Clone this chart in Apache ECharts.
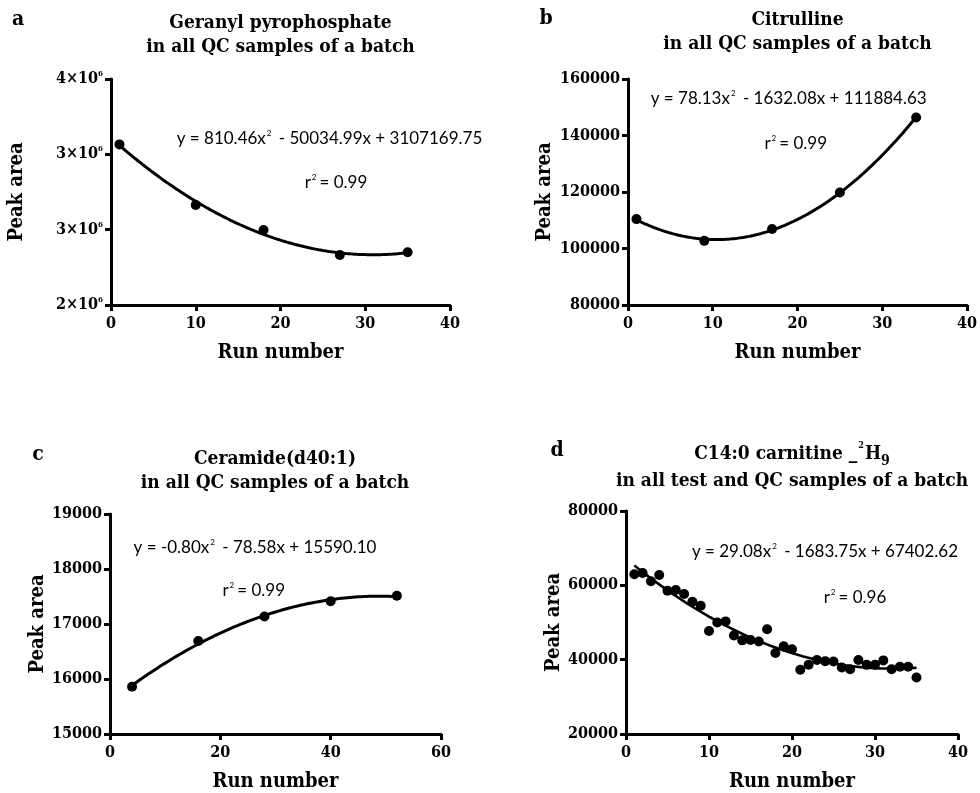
<!DOCTYPE html>
<html>
<head>
<meta charset="utf-8">
<script src="https://cdn.jsdelivr.net/npm/echarts@6/dist/echarts.min.js"></script>
<style>
  html, body { margin: 0; padding: 0; background: #fff; }
  #chart { width: 980px; height: 793px; }
</style>
</head>
<body>
<div id="chart"></div>
<script>
// ---- Data -------------------------------------------------------------
// a: Geranyl pyrophosphate, QC injections
const runA  = [1, 10, 18, 27, 35];
const areaA = [3066000, 2664000, 2498000, 2332000, 2350000];
// b: Citrulline, QC injections
const runB  = [1, 9, 17, 25, 34];
const areaB = [110400, 102700, 106900, 119800, 146400];
// c: Ceramide(d40:1), QC injections
const runC  = [4, 16, 28, 40, 52];
const areaC = [15860, 16690, 17135, 17415, 17515];
// d: C14:0 carnitine-2H9 internal standard, test + QC injections
const runD  = [1, 2, 3, 4, 5, 6, 7, 8, 9, 10, 11, 12, 13, 14, 15, 16, 17, 18,
               19, 20, 21, 22, 23, 24, 25, 26, 27, 28, 29, 30, 31, 32, 33, 34, 35];
const areaD = [62960, 63300, 61080, 62780, 58570, 58740, 57670, 55600, 54500, 47700,
               50000, 50300, 46500, 45200, 45300, 44900, 48200, 41800, 43600, 42800,
               37300, 38650, 39900, 39600, 39500, 37900, 37400, 39900, 38600, 38600,
               39800, 37400, 38100, 38100, 35200];

// Tick labels of panel a's y axis (mantissa of N×10^6, as printed)
const yTickValuesA   = [2000000, 2500000, 3000000, 3500000];
const yTickMantissaA = ['2', '3', '3', '4'];

const panelLetters = ['a', 'b', 'c', 'd'];
const titleLines = [
  ['Geranyl pyrophosphate', 'in all QC samples of a batch'],
  ['Citrulline', 'in all QC samples of a batch'],
  ['Ceramide(d40:1)', 'in all QC samples of a batch'],
  ['C14:0 carnitine _', 'in all test and QC samples of a batch']
];
const equations = [
  ['y = 810.46x', ' - 50034.99x + 3107169.75'],
  ['y = 78.13x', ' - 1632.08x + 111884.63'],
  ['y = -0.80x', ' - 78.58x + 15590.10'],
  ['y = 29.08x', ' - 1683.75x + 67402.62']
];
const rSquared = ['0.99', '0.99', '0.99', '0.96'];

// ---- Helpers ----------------------------------------------------------
const SERIF = "'DejaVu Serif Condensed', 'DejaVu Serif', serif";
const SANS = "Lato, 'Open Sans', sans-serif";

// Least-squares quadratic y = a x^2 + b x + c
function quadFit(xs, ys) {
  const S = [0, 0, 0, 0, 0], T = [0, 0, 0];
  xs.forEach((x, i) => {
    const y = ys[i];
    for (let k = 0; k < 5; k++) S[k] += Math.pow(x, k);
    T[0] += y; T[1] += x * y; T[2] += x * x * y;
  });
  const M = [[S[0], S[1], S[2], T[0]], [S[1], S[2], S[3], T[1]], [S[2], S[3], S[4], T[2]]];
  for (let col = 0; col < 3; col++) {
    for (let row = col + 1; row < 3; row++) {
      const f = M[row][col] / M[col][col];
      for (let k = col; k < 4; k++) M[row][k] -= f * M[col][k];
    }
  }
  const sol = [0, 0, 0];
  for (let row = 2; row >= 0; row--) {
    let s = M[row][3];
    for (let k = row + 1; k < 3; k++) s -= M[row][k] * sol[k];
    sol[row] = s / M[row][row];
  }
  return { c: sol[0], b: sol[1], a: sol[2] };
}

function fitCurve(xs, ys) {
  const f = quadFit(xs, ys);
  const pts = [];
  const x0 = xs[0], x1 = xs[xs.length - 1];
  for (let x = x0; x <= x1 + 1e-9; x += 0.25) pts.push([x, f.a * x * x + f.b * x + f.c]);
  return pts;
}

const zip = (xs, ys) => xs.map((x, i) => [x, ys[i]]);

// ---- Layout -----------------------------------------------------------
const grids = [
  { left: 111, top: 79,  width: 339, height: 226 },
  { left: 628, top: 79,  width: 339, height: 226 },
  { left: 110, top: 514, width: 331, height: 222 },
  { left: 626, top: 511, width: 332, height: 223 }
];

const axisLine = { lineStyle: { color: '#000', width: 3 } };
const axisTick = { length: 6, lineStyle: { color: '#000', width: 3 } };
const plainNumber = v => String(v);
const axisLabelBase = { color: '#000', fontFamily: SERIF, fontWeight: 'bold', fontSize: 16, formatter: plainNumber };
const axisNameStyle = { color: '#000', fontFamily: SERIF, fontWeight: 'bold', fontSize: 20 };

function xAxisFor(i, max, interval) {
  return {
    type: 'value', gridIndex: i, min: 0, max: max, interval: interval,
    name: 'Run number', nameLocation: 'middle', nameGap: 38, nameTextStyle: axisNameStyle,
    axisLine: Object.assign({ onZero: false }, axisLine), axisTick: axisTick,
    axisLabel: Object.assign({}, axisLabelBase, { margin: 11 }),
    splitLine: { show: false }
  };
}
function yAxisFor(i, min, max, interval, nameGap, labelExtra) {
  return {
    type: 'value', gridIndex: i, min: min, max: max, interval: interval,
    name: 'Peak area', nameLocation: 'middle', nameGap: nameGap, nameTextStyle: axisNameStyle,
    axisLine: Object.assign({ onZero: false }, axisLine), axisTick: axisTick,
    axisLabel: Object.assign({}, axisLabelBase, { margin: 8 }, labelExtra || {}),
    splitLine: { show: false }
  };
}

const xAxes = [
  xAxisFor(0, 40, 10),
  xAxisFor(1, 40, 10),
  xAxisFor(2, 60, 20),
  xAxisFor(3, 40, 10)
];
const yAxes = [
  yAxisFor(0, 2000000, 3500000, 500000, 84, {
    formatter: function (v) {
      const idx = yTickValuesA.indexOf(v);
      return '{m|' + yTickMantissaA[idx] + '×10}{e|6}';
    },
    rich: {
      m: { fontFamily: SERIF, fontWeight: 'bold', fontSize: 16, color: '#000', lineHeight: 18 },
      e: { fontFamily: SERIF, fontWeight: 'bold', fontSize: 8, color: '#000', verticalAlign: 'top', lineHeight: 18 }
    }
  }),
  yAxisFor(1, 80000, 160000, 20000, 73),
  yAxisFor(2, 15000, 19000, 1000, 62),
  yAxisFor(3, 20000, 80000, 20000, 60)
];

const pointSets = [[runA, areaA], [runB, areaB], [runC, areaC], [runD, areaD]];
const series = [];
pointSets.forEach(([xs, ys], i) => {
  series.push({
    type: 'line', xAxisIndex: i, yAxisIndex: i, data: fitCurve(xs, ys),
    showSymbol: false, symbol: 'none', smooth: false, silent: true,
    lineStyle: { color: '#000', width: i === 3 ? 2.6 : 3 }, z: 2
  });
  series.push({
    type: 'scatter', xAxisIndex: i, yAxisIndex: i, data: zip(xs, ys),
    symbol: 'circle', symbolSize: 10, itemStyle: { color: '#000', opacity: 1 }, z: 3
  });
});

// ---- Text annotations ---------------------------------------------------
const letterPos = [[18, 20], [546, 19], [38, 455], [557, 451]];
const titlePos  = [[280.5, 35], [797.5, 32], [275, 471], [792, 468]];
const eqPos     = [[329.5, 139], [788.7, 99], [255, 548], [825, 552]];
const r2Pos     = [[336, 183], [795.7, 144], [253.7, 591], [855, 598]];

const titleRich = {
  t:   { fontFamily: SERIF, fontWeight: 'bold', fontSize: 19, fill: '#000', lineHeight: 24 },
  sup: { fontFamily: SERIF, fontWeight: 'bold', fontSize: 9, fill: '#000', verticalAlign: 'top', lineHeight: 27, padding: [0, 1, 0, 1] },
  sub: { fontFamily: SERIF, fontWeight: 'bold', fontSize: 14, fill: '#000', verticalAlign: 'bottom', lineHeight: 27 },
  t2:  { fontFamily: SERIF, fontWeight: 'bold', fontSize: 19, fill: '#000', lineHeight: 27 }
};
const eqRich = {
  e: { fontFamily: SANS, fontSize: 17, fill: '#000', lineHeight: 20 },
  s: { fontFamily: SANS, fontSize: 8, fill: '#000', verticalAlign: 'top', lineHeight: 20, padding: [0, 3, 0, 1] }
};

const graphics = [];
panelLetters.forEach((L, i) => {
  graphics.push({
    type: 'text', x: letterPos[i][0], y: letterPos[i][1], silent: true,
    style: { text: L, fontFamily: SERIF, fontWeight: 'bold', fontSize: 21, fill: '#000', align: 'center', verticalAlign: 'middle' }
  });
  let ttl;
  if (i === 3) {
    ttl = '{t2|' + titleLines[3][0] + '}{sup|2}{t2|H}{sub|9}\n{t2|' + titleLines[3][1] + '}';
  } else {
    ttl = '{t|' + titleLines[i][0] + '}\n{t|' + titleLines[i][1] + '}';
  }
  graphics.push({
    type: 'text', x: titlePos[i][0], y: titlePos[i][1], silent: true,
    style: { text: ttl, rich: titleRich, align: 'center', verticalAlign: 'middle', fill: '#000' }
  });
  graphics.push({
    type: 'text', x: eqPos[i][0], y: eqPos[i][1], silent: true,
    style: { text: '{e|' + equations[i][0] + '}{s|2}{e|' + equations[i][1] + '}', rich: eqRich, align: 'center', verticalAlign: 'middle', fill: '#000' }
  });
  graphics.push({
    type: 'text', x: r2Pos[i][0], y: r2Pos[i][1], silent: true,
    style: { text: '{e|r}{s|2}{e|= ' + rSquared[i] + '}', rich: eqRich, align: 'center', verticalAlign: 'middle', fill: '#000' }
  });
});

const chart = echarts.init(document.getElementById('chart'), null, { renderer: 'canvas' });
chart.setOption({
  animation: false,
  backgroundColor: '#fff',
  grid: grids,
  xAxis: xAxes,
  yAxis: yAxes,
  series: series,
  graphic: graphics
});
</script>
</body>
</html>
